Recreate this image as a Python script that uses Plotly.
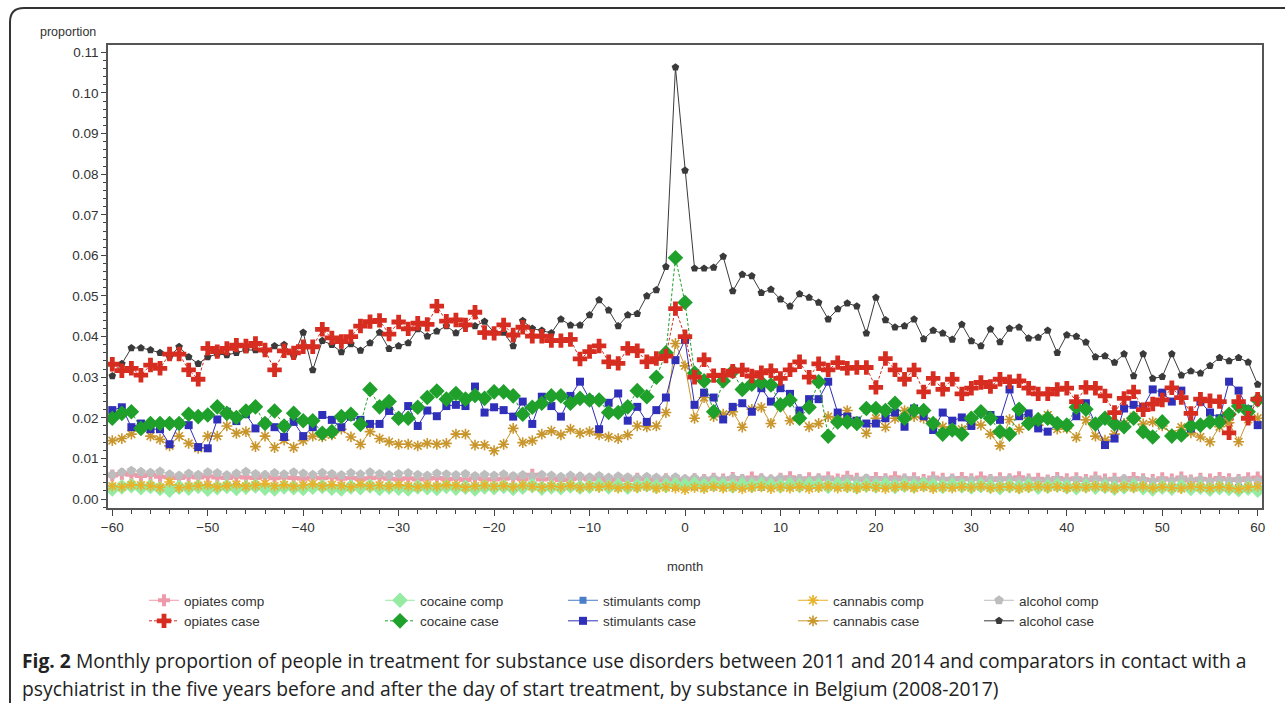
import plotly.graph_objects as go

months = list(range(-60, 61))

opiates_comp = [
    0.0058,0.0062,0.0060,0.0057,0.0059,0.0055,0.0054,0.0052,0.0055,0.0053,
    0.0056,0.0053,0.0052,0.0055,0.0053,0.0052,0.0055,0.0051,0.0053,0.0052,
    0.0050,0.0053,0.0051,0.0054,0.0050,0.0052,0.0049,0.0051,0.0053,0.0050,
    0.0049,0.0051,0.0048,0.0050,0.0052,0.0049,0.0050,0.0047,0.0051,0.0049,
    0.0048,0.0050,0.0052,0.0049,0.0060,0.0048,0.0050,0.0047,0.0049,0.0051,
    0.0048,0.0050,0.0046,0.0049,0.0047,0.0050,0.0048,0.0046,0.0049,0.0047,
    0.0045,0.0049,0.0047,0.0050,0.0048,0.0052,0.0047,0.0053,0.0049,0.0046,
    0.0050,0.0054,0.0047,0.0051,0.0049,0.0053,0.0048,0.0055,0.0050,0.0047,
    0.0052,0.0049,0.0054,0.0048,0.0051,0.0047,0.0053,0.0050,0.0048,0.0052,
    0.0049,0.0053,0.0047,0.0051,0.0049,0.0054,0.0048,0.0050,0.0046,0.0052,
    0.0049,0.0051,0.0047,0.0053,0.0048,0.0050,0.0046,0.0052,0.0049,0.0047,
    0.0051,0.0048,0.0053,0.0046,0.0050,0.0048,0.0052,0.0049,0.0047,0.0051,
    0.0053]

opiates_case = [
    0.0332,0.0316,0.0322,0.0305,0.0330,0.0322,0.0357,0.0357,0.0318,0.0295,
    0.0371,0.0363,0.0371,0.0379,0.0377,0.0383,0.0367,0.0318,0.0365,0.0360,
    0.0375,0.0375,0.0418,0.0397,0.0388,0.0400,0.0426,0.0437,0.0440,0.0406,
    0.0436,0.0419,0.0433,0.0430,0.0475,0.0438,0.0441,0.0429,0.0460,0.0410,
    0.0408,0.0429,0.0404,0.0423,0.0401,0.0401,0.0390,0.0390,0.0393,0.0345,
    0.0363,0.0377,0.0338,0.0334,0.0371,0.0365,0.0338,0.0346,0.0352,0.0469,
    0.0400,0.0300,0.0343,0.0304,0.0305,0.0315,0.0318,0.0303,0.0311,0.0316,
    0.0297,0.0318,0.0338,0.0300,0.0333,0.0318,0.0336,0.0322,0.0324,0.0324,
    0.0275,0.0346,0.0318,0.0295,0.0318,0.0264,0.0297,0.0270,0.0295,0.0259,
    0.0273,0.0287,0.0277,0.0295,0.0289,0.0291,0.0273,0.0259,0.0259,0.0270,
    0.0273,0.0240,0.0275,0.0273,0.0254,0.0213,0.0248,0.0264,0.0220,0.0234,
    0.0244,0.0274,0.0250,0.0211,0.0246,0.0242,0.0240,0.0163,0.0240,0.0199,
    0.0246]

cocaine_comp = [
    0.0025,0.0030,0.0033,0.0028,0.0031,0.0026,0.0022,0.0029,0.0027,0.0031,
    0.0024,0.0028,0.0031,0.0026,0.0029,0.0032,0.0027,0.0025,0.0030,0.0028,
    0.0026,0.0029,0.0031,0.0027,0.0025,0.0030,0.0028,0.0032,0.0026,0.0029,
    0.0027,0.0025,0.0030,0.0028,0.0026,0.0031,0.0027,0.0029,0.0025,0.0030,
    0.0028,0.0031,0.0026,0.0029,0.0033,0.0027,0.0030,0.0028,0.0032,0.0029,
    0.0031,0.0034,0.0030,0.0033,0.0029,0.0032,0.0035,0.0031,0.0033,0.0036,
    0.0034,0.0037,0.0033,0.0036,0.0034,0.0032,0.0035,0.0033,0.0036,0.0034,
    0.0032,0.0035,0.0033,0.0036,0.0034,0.0031,0.0035,0.0033,0.0030,0.0034,
    0.0032,0.0035,0.0031,0.0034,0.0032,0.0036,0.0033,0.0031,0.0034,0.0032,
    0.0030,0.0033,0.0031,0.0028,0.0032,0.0030,0.0033,0.0029,0.0031,0.0034,
    0.0030,0.0028,0.0032,0.0029,0.0031,0.0027,0.0030,0.0032,0.0028,0.0025,
    0.0029,0.0027,0.0031,0.0026,0.0029,0.0024,0.0028,0.0026,0.0023,0.0027,
    0.0022]

cocaine_case = [
    0.0199,0.0211,0.0215,0.0174,0.0186,0.0186,0.0186,0.0186,0.0209,0.0203,
    0.0207,0.0227,0.0211,0.0201,0.0217,0.0227,0.0186,0.0217,0.0180,0.0211,
    0.0193,0.0193,0.0162,0.0166,0.0203,0.0209,0.0184,0.0270,0.0227,0.0240,
    0.0199,0.0199,0.0226,0.0250,0.0266,0.0246,0.0260,0.0246,0.0255,0.0248,
    0.0264,0.0264,0.0254,0.0209,0.0226,0.0236,0.0254,0.0254,0.0236,0.0248,
    0.0244,0.0244,0.0213,0.0213,0.0227,0.0267,0.0252,0.0300,0.0360,0.0594,
    0.0484,0.0310,0.0291,0.0215,0.0291,0.0314,0.0270,0.0283,0.0287,0.0281,
    0.0232,0.0244,0.0199,0.0226,0.0289,0.0155,0.0190,0.0190,0.0186,0.0223,
    0.0223,0.0218,0.0236,0.0199,0.0218,0.0218,0.0186,0.0160,0.0170,0.0160,
    0.0199,0.0215,0.0199,0.0166,0.0160,0.0221,0.0186,0.0196,0.0199,0.0186,
    0.0182,0.0226,0.0221,0.0185,0.0199,0.0185,0.0178,0.0199,0.0166,0.0153,
    0.0190,0.0155,0.0158,0.0180,0.0182,0.0190,0.0190,0.0209,0.0229,0.0215,
    0.0244]

stimulants_comp = [
    0.0029,0.0030,0.0031,0.0030,0.0029,0.0028,0.0030,0.0029,0.0030,0.0031,
    0.0030,0.0029,0.0030,0.0031,0.0029,0.0030,0.0031,0.0030,0.0029,0.0030,
    0.0029,0.0030,0.0031,0.0029,0.0030,0.0029,0.0030,0.0031,0.0029,0.0030,
    0.0030,0.0029,0.0030,0.0029,0.0031,0.0030,0.0029,0.0030,0.0029,0.0030,
    0.0029,0.0030,0.0029,0.0030,0.0031,0.0029,0.0030,0.0029,0.0030,0.0029,
    0.0030,0.0029,0.0030,0.0029,0.0030,0.0029,0.0030,0.0029,0.0030,0.0031,
    0.0029,0.0030,0.0029,0.0030,0.0029,0.0030,0.0029,0.0030,0.0029,0.0030,
    0.0029,0.0030,0.0029,0.0030,0.0029,0.0030,0.0029,0.0030,0.0029,0.0030,
    0.0029,0.0030,0.0029,0.0030,0.0029,0.0030,0.0029,0.0030,0.0029,0.0030,
    0.0029,0.0030,0.0029,0.0030,0.0029,0.0030,0.0029,0.0030,0.0029,0.0030,
    0.0029,0.0030,0.0029,0.0030,0.0029,0.0030,0.0029,0.0030,0.0029,0.0030,
    0.0029,0.0030,0.0029,0.0030,0.0029,0.0030,0.0029,0.0030,0.0029,0.0030,
    0.0029]

stimulants_case = [
    0.0219,0.0226,0.0177,0.0186,0.0172,0.0172,0.0135,0.0186,0.0182,0.0128,
    0.0125,0.0196,0.0215,0.0192,0.0209,0.0174,0.0188,0.0177,0.0153,0.0190,
    0.0155,0.0177,0.0207,0.0195,0.0177,0.0203,0.0195,0.0185,0.0185,0.0217,
    0.0200,0.0229,0.0180,0.0218,0.0204,0.0229,0.0232,0.0229,0.0277,0.0213,
    0.0226,0.0219,0.0203,0.0240,0.0185,0.0252,0.0229,0.0203,0.0254,0.0289,
    0.0246,0.0172,0.0237,0.0260,0.0193,0.0227,0.0190,0.0219,0.0250,0.0342,
    0.0392,0.0232,0.0262,0.0250,0.0196,0.0227,0.0236,0.0215,0.0273,0.0240,
    0.0273,0.0259,0.0218,0.0246,0.0246,0.0289,0.0213,0.0203,0.0193,0.0186,
    0.0186,0.0199,0.0213,0.0178,0.0223,0.0204,0.0170,0.0213,0.0193,0.0201,
    0.0180,0.0213,0.0207,0.0195,0.0270,0.0204,0.0211,0.0174,0.0166,0.0185,
    0.0182,0.0204,0.0236,0.0186,0.0133,0.0149,0.0223,0.0232,0.0227,0.0270,
    0.0262,0.0240,0.0267,0.0174,0.0240,0.0213,0.0199,0.0289,0.0267,0.0221,
    0.0182]

cannabis_comp = [
    0.0032,0.0030,0.0035,0.0034,0.0033,0.0029,0.0042,0.0028,0.0031,0.0033,
    0.0035,0.0030,0.0033,0.0036,0.0031,0.0034,0.0038,0.0032,0.0035,0.0031,
    0.0034,0.0037,0.0032,0.0035,0.0033,0.0030,0.0036,0.0032,0.0034,0.0031,
    0.0035,0.0032,0.0030,0.0034,0.0031,0.0035,0.0033,0.0029,0.0032,0.0034,
    0.0031,0.0033,0.0030,0.0034,0.0031,0.0029,0.0032,0.0030,0.0033,0.0028,
    0.0031,0.0029,0.0032,0.0027,0.0030,0.0028,0.0031,0.0026,0.0029,0.0027,
    0.0023,0.0028,0.0026,0.0030,0.0027,0.0029,0.0025,0.0028,0.0030,0.0026,
    0.0029,0.0027,0.0030,0.0026,0.0028,0.0031,0.0027,0.0029,0.0026,0.0030,
    0.0028,0.0026,0.0029,0.0031,0.0027,0.0030,0.0026,0.0029,0.0027,0.0030,
    0.0028,0.0031,0.0027,0.0029,0.0030,0.0026,0.0029,0.0031,0.0028,0.0030,
    0.0027,0.0030,0.0028,0.0031,0.0029,0.0026,0.0030,0.0028,0.0031,0.0027,
    0.0030,0.0028,0.0026,0.0031,0.0029,0.0027,0.0030,0.0028,0.0025,0.0029,
    0.0031]

cannabis_case = [
    0.0144,0.0149,0.0160,0.0177,0.0155,0.0147,0.0131,0.0155,0.0137,0.0125,
    0.0155,0.0155,0.0180,0.0162,0.0166,0.0129,0.0155,0.0127,0.0145,0.0127,
    0.0144,0.0155,0.0153,0.0158,0.0172,0.0153,0.0135,0.0166,0.0149,0.0141,
    0.0135,0.0135,0.0131,0.0137,0.0135,0.0137,0.0160,0.0160,0.0133,0.0133,
    0.0119,0.0135,0.0174,0.0139,0.0144,0.0160,0.0168,0.0158,0.0172,0.0162,
    0.0166,0.0158,0.0153,0.0149,0.0158,0.0180,0.0178,0.0180,0.0213,0.0383,
    0.0328,0.0199,0.0250,0.0203,0.0209,0.0215,0.0177,0.0221,0.0226,0.0186,
    0.0229,0.0193,0.0204,0.0178,0.0186,0.0203,0.0199,0.0218,0.0186,0.0162,
    0.0199,0.0177,0.0199,0.0218,0.0203,0.0199,0.0188,0.0178,0.0172,0.0172,
    0.0185,0.0182,0.0160,0.0131,0.0196,0.0172,0.0199,0.0182,0.0207,0.0172,
    0.0174,0.0152,0.0195,0.0155,0.0145,0.0160,0.0186,0.0203,0.0185,0.0190,
    0.0180,0.0160,0.0177,0.0163,0.0153,0.0141,0.0178,0.0188,0.0141,0.0196,
    0.0199]

alcohol_comp = [
    0.0060,0.0066,0.0070,0.0067,0.0065,0.0068,0.0061,0.0058,0.0063,0.0060,
    0.0066,0.0064,0.0059,0.0063,0.0067,0.0062,0.0060,0.0064,0.0061,0.0066,
    0.0063,0.0060,0.0065,0.0062,0.0059,0.0064,0.0061,0.0066,0.0062,0.0059,
    0.0062,0.0064,0.0060,0.0058,0.0063,0.0061,0.0059,0.0062,0.0057,0.0060,
    0.0058,0.0061,0.0057,0.0059,0.0056,0.0060,0.0058,0.0055,0.0058,0.0056,
    0.0054,0.0057,0.0053,0.0056,0.0054,0.0052,0.0055,0.0053,0.0051,0.0054,
    0.0050,0.0052,0.0049,0.0051,0.0048,0.0052,0.0050,0.0047,0.0051,0.0049,
    0.0052,0.0048,0.0050,0.0047,0.0051,0.0049,0.0046,0.0050,0.0048,0.0051,
    0.0047,0.0049,0.0046,0.0050,0.0048,0.0045,0.0049,0.0047,0.0050,0.0046,
    0.0048,0.0045,0.0049,0.0047,0.0050,0.0046,0.0048,0.0044,0.0047,0.0049,
    0.0045,0.0048,0.0046,0.0049,0.0045,0.0047,0.0050,0.0046,0.0048,0.0044,
    0.0047,0.0045,0.0049,0.0046,0.0048,0.0044,0.0047,0.0045,0.0048,0.0046,
    0.0045]

alcohol_case = [
    0.0303,0.0333,0.0372,0.0372,0.0367,0.0360,0.0350,0.0375,0.0350,0.0333,
    0.0350,0.0357,0.0355,0.0360,0.0367,0.0367,0.0365,0.0377,0.0380,0.0352,
    0.0410,0.0318,0.0390,0.0380,0.0362,0.0382,0.0366,0.0384,0.0410,0.0370,
    0.0377,0.0384,0.0419,0.0401,0.0413,0.0426,0.0409,0.0427,0.0426,0.0437,
    0.0410,0.0410,0.0377,0.0439,0.0420,0.0415,0.0409,0.0443,0.0428,0.0428,
    0.0453,0.0490,0.0465,0.0426,0.0453,0.0456,0.0500,0.0515,0.0572,0.1063,
    0.0809,0.0568,0.0568,0.0570,0.0597,0.0512,0.0553,0.0549,0.0508,0.0516,
    0.0492,0.0475,0.0505,0.0496,0.0484,0.0443,0.0468,0.0482,0.0475,0.0408,
    0.0496,0.0441,0.0423,0.0426,0.0443,0.0394,0.0415,0.0408,0.0393,0.0430,
    0.0389,0.0377,0.0418,0.0387,0.0420,0.0423,0.0396,0.0398,0.0415,0.0360,
    0.0404,0.0400,0.0386,0.0350,0.0352,0.0336,0.0357,0.0303,0.0357,0.0297,
    0.0301,0.0357,0.0305,0.0315,0.0310,0.0328,0.0348,0.0340,0.0348,0.0337,
    0.0282]

ytick_vals = [0.00, 0.01, 0.02, 0.03, 0.04, 0.05, 0.06, 0.07, 0.08, 0.09, 0.10, 0.11]
xtick_vals = [-60, -50, -40, -30, -20, -10, 0, 10, 20, 30, 40, 50, 60]

series = [
    # name, values, color, symbol, size, dash, legend, rank
    ("stimulants comp", stimulants_comp, "#4A7EC6", "square", 7, "solid", "legend3", 1),
    ("opiates comp", opiates_comp, "#EE9AAA", "cross", 10, "solid", "legend", 1),
    ("alcohol comp", alcohol_comp, "#BDBDBD", "pentagon", 10, "solid", "legend5", 1),
    ("cocaine comp", cocaine_comp, "#95EBA2", "diamond", 12, "solid", "legend2", 1),
    ("cannabis comp", cannabis_comp, "#E8B22A", "asterisk-open", 9, "solid", "legend4", 1),
    ("alcohol case", alcohol_case, "#3A3A3A", "pentagon", 8, "solid", "legend5", 2),
    ("cannabis case", cannabis_case, "#C9962C", "asterisk-open", 9, "solid", "legend4", 2),
    ("stimulants case", stimulants_case, "#2F2FB9", "square", 8, "solid", "legend3", 2),
    ("cocaine case", cocaine_case, "#1FA02B", "diamond", 12, "3px,2px", "legend2", 2),
    ("opiates case", opiates_case, "#D62D20", "cross", 12, "3px,2px", "legend", 2),
]

fig = go.Figure()
for name, vals, color, sym, size, dash, leg, rank in series:
    assert len(vals) == 121, name
    marker = dict(symbol=sym, size=size, color=color)
    if sym.startswith("asterisk"):
        marker["line"] = dict(color=color, width=1.6)
    else:
        marker["line"] = dict(width=0)
    fig.add_trace(go.Scatter(
        x=months, y=vals, mode="lines+markers", name=name,
        line=dict(color=color, width=1, dash=dash),
        marker=marker, legend=leg, legendrank=rank,
    ))

W, H = 1285, 703
L, R, T, B = 108, 1262, 45, 508
def px(x):
    return (x - L) / (R - L)
def py(y):
    return (B - y) / (B - T)

FONT = "Liberation Sans"
leg_common = dict(orientation="v", bgcolor="rgba(0,0,0,0)", font=dict(family=FONT, size=13.5, color="#333"),
                  yanchor="top", xanchor="left", tracegroupgap=0, itemwidth=30)
legend_x = [144, 380, 563, 793, 979]
legend_top = 585
fig.update_layout(
    width=W, height=H,
    margin=dict(l=L, r=W - R, t=T, b=H - B, pad=0),
    paper_bgcolor="white", plot_bgcolor="white",
    font=dict(family=FONT, size=13, color="#333"),
    legend=dict(x=px(legend_x[0]), y=py(legend_top), **leg_common),
    legend2=dict(x=px(legend_x[1]), y=py(legend_top), **leg_common),
    legend3=dict(x=px(legend_x[2]), y=py(legend_top), **leg_common),
    legend4=dict(x=px(legend_x[3]), y=py(legend_top), **leg_common),
    legend5=dict(x=px(legend_x[4]), y=py(legend_top), **leg_common),
    xaxis=dict(range=[-60.45, 60.45], tickvals=xtick_vals, ticks="outside", ticklen=6,
               tickcolor="#444", showline=True, linecolor="#555", linewidth=1.5, mirror=True,
               showgrid=False, zeroline=False, tickfont=dict(family=FONT, size=13.5, color="#333"),
               minor=dict(dtick=2, tick0=0, ticks="outside", ticklen=4, tickcolor="#444")),
    yaxis=dict(range=[-0.0022, 0.1118], tickvals=ytick_vals, tickformat=".2f", ticks="outside",
               ticklen=5, tickcolor="#444", showline=True, linecolor="#555", linewidth=1.5, mirror=True,
               showgrid=False, zeroline=False, tickfont=dict(family=FONT, size=13.5, color="#333"),
               minor=dict(dtick=0.002, tick0=0, ticks="outside", ticklen=3, tickcolor="#444")),
)

fig.add_annotation(text="proportion", x=px(38), y=py(32), xref="paper", yref="paper",
                   xanchor="left", yanchor="middle", showarrow=False,
                   font=dict(family=FONT, size=12.5, color="#333"))
fig.add_annotation(text="month", x=px(685), y=py(566), xref="paper", yref="paper",
                   xanchor="center", yanchor="middle", showarrow=False,
                   font=dict(family=FONT, size=13, color="#333"))

cap_font = dict(family="Open Sans", size=19.3, color="#222")
fig.add_annotation(text="<b>Fig. 2</b> Monthly proportion of people in treatment for substance use disorders between 2011 and 2014 and comparators in contact with a",
                   x=px(20), y=py(660), xref="paper", yref="paper", xanchor="left", yanchor="middle",
                   showarrow=False, font=cap_font)
fig.add_annotation(text="psychiatrist in the five years before and after the day of start treatment, by substance in Belgium (2008-2017)",
                   x=px(20), y=py(688), xref="paper", yref="paper", xanchor="left", yanchor="middle",
                   showarrow=False, font=cap_font)

# rounded outer frame
x0, y0, r = 10, 8, 14
path = (f"M {px(1295)},{py(y0)} L {px(x0 + r)},{py(y0)} "
        f"Q {px(x0)},{py(y0)} {px(x0)},{py(y0 + r)} L {px(x0)},{py(712)}")
fig.add_shape(type="path", path=path, xref="paper", yref="paper",
              line=dict(color="#333", width=2))

fig.write_html("out.html")
